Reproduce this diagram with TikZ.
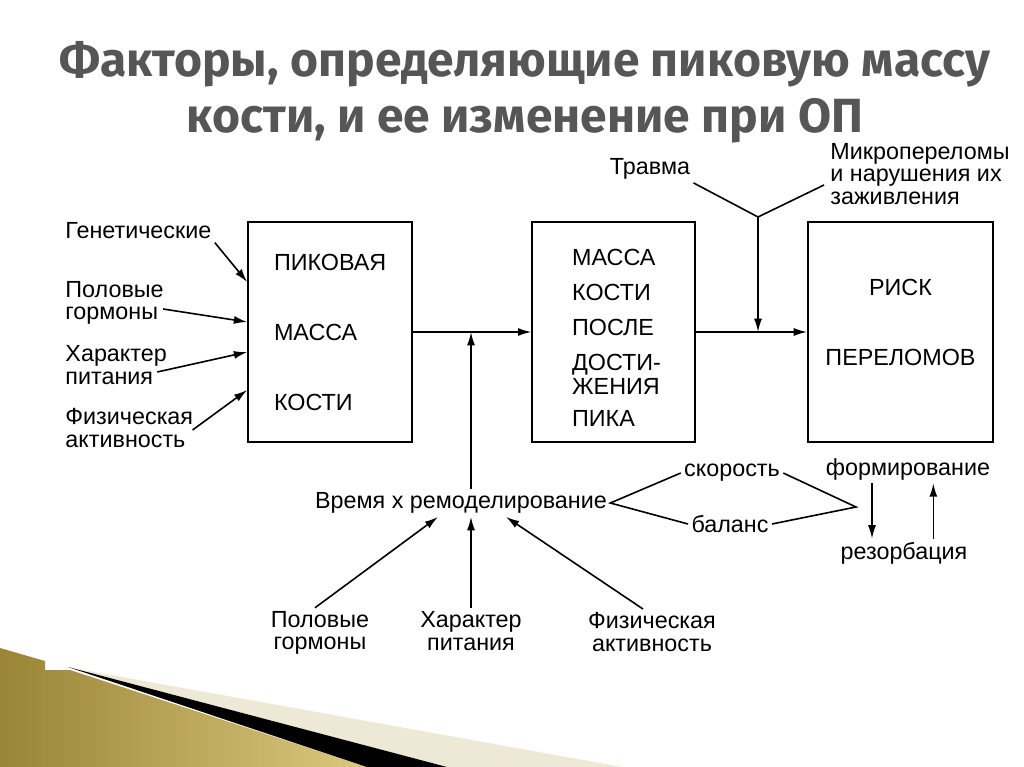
\documentclass[tikz,border=0pt]{standalone}
\usepackage{fontspec}
\setmainfont{Liberation Sans}
\newfontfamily\titlefont{Fira Sans}
\usetikzlibrary{arrows.meta,positioning,calc}
\definecolor{titlegray}{HTML}{565656}
\definecolor{goldA}{HTML}{9A8436}
\definecolor{goldB}{HTML}{DCC97E}
\definecolor{cream}{HTML}{EEE8D6}

\begin{document}
\begin{tikzpicture}[x=0.75pt,y=-0.75pt,>={Latex[length=10pt,width=6pt]},line width=1.2pt]
  \tikzset{
    txt/.style={font=\fontsize{17.5}{17}\selectfont,inner sep=2pt},
    boxtxt/.style={font=\fontsize{17.5}{52.5}\selectfont,inner sep=0pt},
    blk/.style={draw,line width=1.2pt,inner sep=0pt,minimum height=165pt},
    ttl/.style={font=\titlefont\bfseries\fontsize{36}{42}\selectfont,text=titlegray,align=center}
  }
  \fill[white] (0,0) rectangle (1024,767);
  \useasboundingbox (0,0) rectangle (1024,767);
  % slide decoration
  \fill[cream] (72,668) -- (622,767) -- (447,767) -- cycle;
  \shade[left color=goldA,right color=goldB] (0,648) -- (45,661) -- (45,670) -- (70,670) -- (367,767) -- (0,767) -- cycle;
  \fill[black] (68,667) -- (447,767) -- (367,767) -- cycle;

  \node[ttl] (title) at (525,92) {Факторы, определяющие пиковую массу\\кости, и ее изменение при ОП};

  % boxes
  \node[blk,minimum width=123pt] (peak) at (330,332) {};
  \node[blk,minimum width=122pt] (post) at (613.5,332) {};
  \node[blk,minimum width=139pt] (risk) at (900.5,332) {};
  \node[boxtxt,anchor=west,align=left] (peaktxt) at ($(peak.west)+(26,0)$) {ПИКОВАЯ\\МАССА\\КОСТИ};
  \node[boxtxt,anchor=west,align=left,font=\fontsize{17.5}{26.25}\selectfont] (posttxt) at ($(post.west)+(40,6)$)
    {МАССА\\КОСТИ\\ПОСЛЕ\\ДОСТИ-\\[-8pt]ЖЕНИЯ\\[-2pt]ПИКА};
  \node[boxtxt,align=center] (risktxt) at ($(risk.center)+(0,-10)$) {РИСК\\ПЕРЕЛОМОВ};

  % factors on the left
  \node[txt,anchor=west] (gen) at (62,231) {Генетические};
  \node[txt,anchor=west,align=left] (horm) at (62,303) {Половые\\гормоны};
  \node[txt,anchor=west,align=left] (diet) at (62,365) {Характер\\питания};
  \node[txt,anchor=west,align=left] (act) at (62,428) {Физическая\\активность};
  \draw[->] (gen.south east) -- ($(peak.west)+(0,-50)$);
  \draw[->] ($(horm.east)+(-4,6)$) -- ($(peak.west)+(0,-10)$);
  \draw[->] ($(diet.east)+(-13,7)$) -- ($(peak.west)+(0,20)$);
  \draw[->] ($(act.east)+(-4,2)$) -- ($(peak.west)+(0,58)$);

  % main chain
  \coordinate (j1) at (471,332);
  \coordinate (fork) at (758,217);
  \coordinate (j2) at (758,332);
  \draw[->] (peak.east) -- (post.west);
  \draw[->] (post.east) -- (risk.west);
  \node[txt] (trauma) at (650,169) {Травма};
  \node[txt,anchor=west,align=left] (micro) at (827,174) {Микропереломы\\и нарушения их\\заживления};
  \draw (trauma.south east) -- (fork) -- ($(micro.west)+(-3,11)$);
  \draw[->] (fork) -- (j2);

  % remodelling
  \node[txt] (remod) at (461,503) {Время х ремоделирование};
  \draw[->] (remod.north -| j1) -- (j1);
  \node[txt,align=center] (horm2) at (320,633) {Половые\\гормоны};
  \node[txt,align=center] (diet2) at (471,631) {Характер\\питания};
  \node[txt,align=center] (act2) at (652,632) {Физическая\\активность};
  \draw[->] ($(horm2.north)+(-5,0)$) -- ($(remod.south)+(-23,0)$);
  \draw[->] (diet2.north) -- (diet2.north |- remod.south);
  \draw[->] ($(act2.north)+(-9,0)$) -- ($(remod.south)+(45,0)$);

  \node[txt] (speed) at (732,473) {скорость};
  \node[txt] (bal) at (730,524) {баланс};
  \coordinate (vx) at (856,507);
  \draw (speed.west) -- (remod.east) -- (bal.west);
  \draw (speed.east) -- (vx) -- (bal.east);
  \node[txt] (form) at (908,469) {формирование};
  \node[txt] (resorb) at (904,553) {резорбация};
  \draw[->] ([xshift=-27pt]form.south) -- ([xshift=-27pt]form.south |- resorb.north);
  \draw[->] ([xshift=19pt]form.south |- resorb.north) -- ([xshift=19pt]form.south);
\end{tikzpicture}
\end{document}
